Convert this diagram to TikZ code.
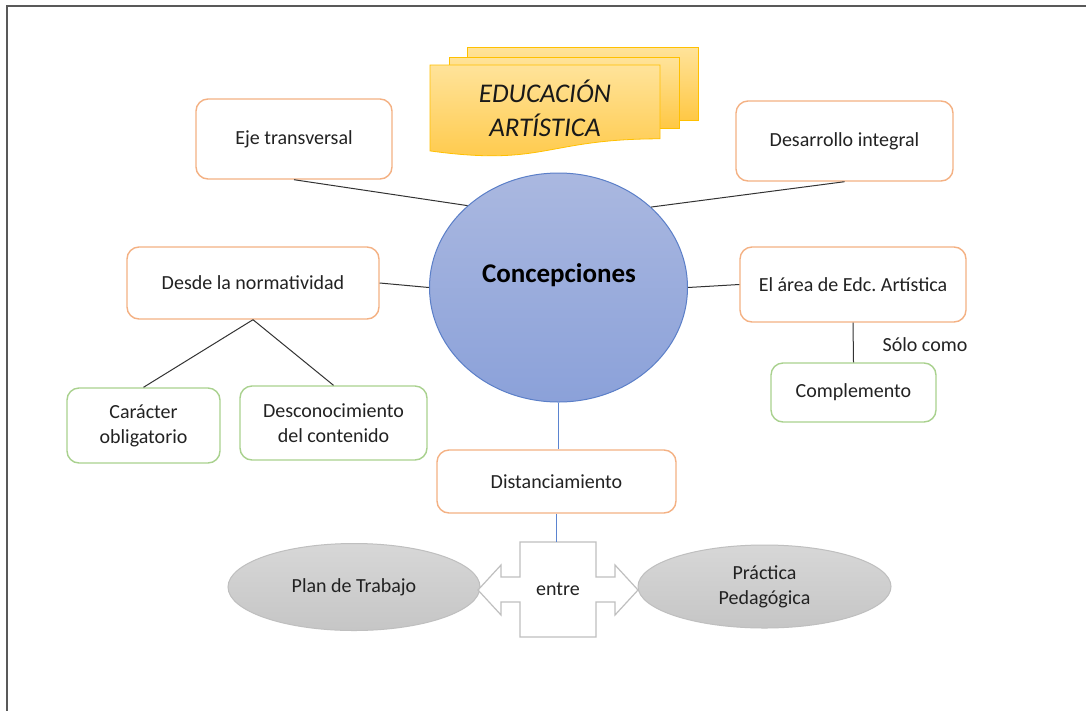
\documentclass[tikz,border=0pt]{standalone}
\usepackage{fontspec}
\setmainfont{Carlito}
\usetikzlibrary{shapes.geometric}
\definecolor{borange}{HTML}{F4B183}
\definecolor{bgreen}{HTML}{A9D18E}
\definecolor{txt}{HTML}{222222}
\definecolor{cblue}{HTML}{5B84D0}
\definecolor{ebord}{HTML}{5B7FC8}
\definecolor{etop}{HTML}{AAB8E0}
\definecolor{ebot}{HTML}{8BA1D9}
\definecolor{ytop}{HTML}{FFE39A}
\definecolor{ybot}{HTML}{FFC845}
\definecolor{ybord}{HTML}{FFC000}
\definecolor{gfill}{HTML}{D0D0D0}
\definecolor{gbord}{HTML}{BFBFBF}
\frenchspacing
\begin{document}
\begin{tikzpicture}[x=1pt,y=-1pt,
  obox/.style={draw=borange, line width=1.4pt, rounded corners=12pt, fill=white,
    text=txt, font=\fontsize{20}{25}\selectfont, align=center, inner sep=0pt},
  gbox/.style={obox, draw=bgreen},
  link/.style={draw=black!80, line width=1pt},
  blink/.style={draw=cblue, line width=1pt},
  gell/.style={ellipse, draw=gbord, line width=1pt, top color=gfill!85!white, bottom color=gfill!95!black,
    text=txt, font=\fontsize{20}{25}\selectfont, align=center, inner sep=0pt},
  doc/.style={draw=ybord, line width=0.8pt, top color=ytop, bottom color=ybot},
  lbl/.style={text=txt, font=\fontsize{20}{25}\selectfont, inner sep=0pt}
]
\useasboundingbox (0,0) rectangle (1086,710);
\fill[white] (0,0) rectangle (1086,710);
% frame
\draw[line width=2pt, draw=black!65] (7,712) -- (7,6) -- (1088,6);

% Educacion artistica multi-document
\path[doc] (467,47) -- (698,47) -- (698,120) -- (467,120) -- cycle;
\path[doc] (449,57) -- (679,57) -- (679,128) -- (449,128) -- cycle;
\path[doc] (430,65) -- (660,65) -- (660,138.8) .. controls (545,138.8) and (545,166.8) .. (430,150.9) -- cycle;
\node[text=black!90, font=\fontsize{27}{34}\selectfont\itshape, align=center, inner sep=0pt] (edu) at (545,108) {EDUCACIÓN\\ARTÍSTICA};

% central ellipse
\node[ellipse, draw=ebord, line width=1pt, top color=etop, bottom color=ebot,
  minimum width=258pt, minimum height=229pt, inner sep=0pt] (c) at (558.5,287.5) {};
\node[text=black, font=\fontsize{27}{30}\selectfont\bfseries, inner sep=0pt] (ctext) at (559,275) {Concepciones};

% boxes
\node[obox, minimum width=196pt, minimum height=80pt] (eje) at (294,139) {Eje transversal};
\node[obox, minimum width=217pt, minimum height=80pt] (des) at (844.5,141) {Desarrollo integral};
\node[obox, minimum width=252pt, minimum height=72pt] (norm) at (253,283) {Desde la normatividad};
\node[obox, minimum width=226pt, minimum height=75pt] (area) at (853,284.5) {El área de Edc. Artística};
\node[gbox, minimum width=153pt, minimum height=75pt] (car) at (143.5,425.5) {Carácter\\obligatorio};
\node[gbox, minimum width=187pt, minimum height=74pt] (desc) at (333.5,423) {Desconocimiento\\del contenido};
\node[gbox, minimum width=165pt, minimum height=59pt] (comp) at (853.5,392.5) {Complemento};
\node[obox, minimum width=239pt, minimum height=63pt] (dist) at (556.5,481.5) {Distanciamiento};
\node[lbl] (solo) at (925,345) {Sólo como};

% bottom ellipses
\node[gell, minimum width=252pt, minimum height=87pt] (plan) at (354,587) {Plan de Trabajo};
\node[gell, minimum width=253pt, minimum height=83pt] (prac) at (764.5,586.5) {Práctica\\Pedagógica};

% double arrow callout
\path[draw=gbord, line width=1.2pt, fill=white]
  (520,542) -- (596,542) -- (596,577) -- (615,577) -- (615,565) -- (638,590)
  -- (615,615) -- (615,602) -- (596,602) -- (596,637) -- (520,637) -- (520,602)
  -- (501,602) -- (501,615) -- (478,590) -- (501,565) -- (501,577) -- (520,577) -- cycle;
\node[lbl, minimum width=76pt, minimum height=95pt] (entre) at (558,589.5) {entre};

% connectors
\draw[link] (eje.south) -- (c.138);
\draw[link] (des.south) -- (c.41);
\draw[link] (norm.east) -- (c.west);
\draw[link] (c.east) -- (area.west);
\draw[link] (norm.south) -- (car.north);
\draw[link] (norm.south) -- (desc.north);
\draw[link] (area.south) -- (comp.north);
\draw[blink] (c.south) -- (c.south |- dist.north);
\draw[blink] (dist.south) -- (dist.south |- entre.north);
\end{tikzpicture}
\end{document}
